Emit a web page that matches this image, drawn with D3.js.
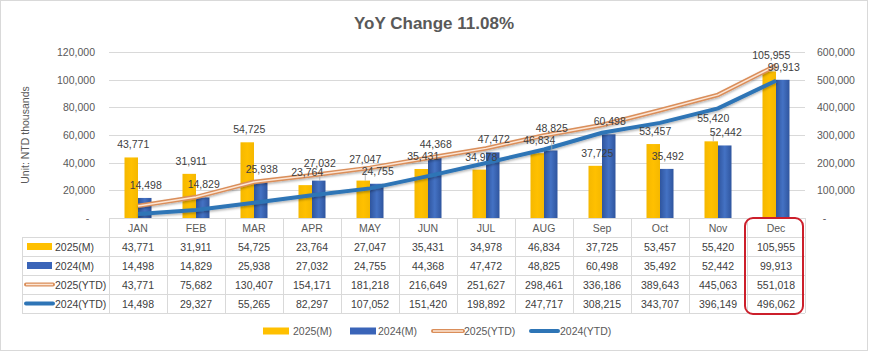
<!DOCTYPE html>
<html><head><meta charset="utf-8">
<script src="https://cdn.jsdelivr.net/npm/d3@7"></script>
<style>
body{margin:0;background:#fff;}
text{font-family:"Liberation Sans",Arial,sans-serif;}
</style>
</head><body>
<svg id="c" width="869" height="352"></svg>
<script>
const title = "YoY Change 11.08%";
const yTitle = "Unit: NTD thousands";
const months = ["JAN","FEB","MAR","APR","MAY","JUN","JUL","AUG","Sep","Oct","Nov","Dec"];
const m2025 = [43771,31911,54725,23764,27047,35431,34978,46834,37725,53457,55420,105955];
const m2024 = [14498,14829,25938,27032,24755,44368,47472,48825,60498,35492,52442,99913];
const ytd2025 = [43771,75682,130407,154171,181218,216649,251627,298461,336186,389643,445063,551018];
const ytd2024 = [14498,29327,55265,82297,107052,151420,198892,247717,308215,343707,396149,496062];
const leftTicks = [0,20000,40000,60000,80000,100000,120000];
const rightTicks = [0,100000,200000,300000,400000,500000,600000];
const seriesNames = ["2025(M)","2024(M)","2025(YTD)","2024(YTD)"];

// layout tweaks: extra lift (px) of a few data labels, as the reference places them
const lift25 = [0,0,0,0,9,0,0,0,0,0,10,3];
const lift24 = [0,0,0,5,0,0,0,9,0,0,0,0];

const C = {y25:"#FFC000", b24:"#3A64B8", o25:"#DA8E5A", o25in:"#FCE6D6", l24:"#2E75B6",
           grid:"#D9D9D9", txt:"#595959", lab:"#404040"};

const svg = d3.select("#c");
const fmt = d3.format(",");

svg.append("rect").attr("x",0.5).attr("y",0.5).attr("width",867).attr("height",350)
  .attr("fill","#fff").attr("stroke","#D9D9D9");

const defs = svg.append("defs");
const gb = defs.append("linearGradient").attr("id","gb").attr("x1","0").attr("x2","1");
gb.append("stop").attr("offset","0").attr("stop-color","#2F559E");
gb.append("stop").attr("offset","0.5").attr("stop-color","#4472C4");
gb.append("stop").attr("offset","1").attr("stop-color","#2F559E");
const gy = defs.append("linearGradient").attr("id","gy").attr("x1","0").attr("x2","1");
gy.append("stop").attr("offset","0").attr("stop-color","#F5B800");
gy.append("stop").attr("offset","0.5").attr("stop-color","#FFC000");
gy.append("stop").attr("offset","1").attr("stop-color","#F5B800");
const sh = defs.append("filter").attr("id","sh").attr("x","-10%").attr("y","-10%").attr("width","120%").attr("height","140%");
sh.append("feDropShadow").attr("dx",0).attr("dy",1.5).attr("stdDeviation",1).attr("flood-color","#000").attr("flood-opacity",0.3);

const X0 = 109, X1 = 805, Y0 = 218, YT = 52;
const x = d3.scaleBand().domain(months).range([X0,X1]).paddingInner(0).paddingOuter(0);
const yL = d3.scaleLinear().domain([0,120000]).range([Y0,YT]);
const yR = d3.scaleLinear().domain([0,600000]).range([Y0,YT]);
const bw = 13.5;
const cx = d=>x(d)+x.bandwidth()/2;

svg.append("text").attr("x",434).attr("y",29).attr("text-anchor","middle")
  .attr("font-size",17).attr("font-weight","bold").attr("fill",C.txt).text(title);

svg.append("text").attr("transform","translate(29,135) rotate(-90)").attr("text-anchor","middle")
  .attr("font-size",10.5).attr("fill",C.txt).text(yTitle);

svg.append("g").selectAll("line").data(leftTicks.filter(d=>d>0)).join("line")
  .attr("x1",X0).attr("x2",X1).attr("y1",d=>Math.round(yL(d))+0.5).attr("y2",d=>Math.round(yL(d))+0.5)
  .attr("stroke",C.grid);

const gl = svg.append("g").attr("transform",`translate(${X0-14},0)`)
  .call(d3.axisLeft(yL).tickValues(leftTicks).tickSize(0).tickPadding(0)
    .tickFormat(d=>d===0?"-  ":fmt(d)));
gl.select(".domain").remove();
gl.selectAll("text").attr("font-size",10.5).attr("fill",C.txt).attr("font-family","Liberation Sans, Arial").attr("xml:space","preserve");

const gr = svg.append("g").attr("transform",`translate(${X1+12},0)`)
  .call(d3.axisRight(yR).tickValues(rightTicks).tickSize(0).tickPadding(0)
    .tickFormat(d=>d===0?"  -":fmt(d)));
gr.select(".domain").remove();
gr.selectAll("text").attr("font-size",10.5).attr("fill",C.txt).attr("font-family","Liberation Sans, Arial").attr("xml:space","preserve");

const gBars = svg.append("g");
gBars.selectAll(".b25").data(months).join("rect")
  .attr("x",d=>cx(d)-bw).attr("width",bw)
  .attr("y",(d,i)=>yL(m2025[i])).attr("height",(d,i)=>Y0-yL(m2025[i]))
  .attr("fill","url(#gy)");
gBars.selectAll(".b24").data(months).join("rect")
  .attr("x",d=>cx(d)).attr("width",bw)
  .attr("y",(d,i)=>yL(m2024[i])).attr("height",(d,i)=>Y0-yL(m2024[i]))
  .attr("fill","url(#gb)");

const l25 = d3.line().x((d,i)=>cx(months[i])).y(d=>yR(d));
svg.append("path").attr("d",l25(ytd2025)).attr("fill","none").attr("stroke",C.o25)
  .attr("stroke-width",4.5).attr("filter","url(#sh)");
svg.append("path").attr("d",l25(ytd2025)).attr("fill","none").attr("stroke",C.o25in)
  .attr("stroke-width",1.5);
svg.append("path").attr("d",l25(ytd2024)).attr("fill","none").attr("stroke",C.l24)
  .attr("stroke-width",4).attr("filter","url(#sh)");

// leader lines for lifted labels
const gLead = svg.append("g").attr("stroke","#A6A6A6").attr("stroke-width",0.8);
months.forEach((m,i)=>{
  if(lift24[i]>4){ gLead.append("line").attr("x1",cx(m)+bw/2+1).attr("x2",cx(m)+bw/2+1)
    .attr("y1",yL(m2024[i])).attr("y2",yL(m2024[i])-lift24[i]+1); }
  if(lift25[i]>4){ gLead.append("line").attr("x1",cx(m)-bw/2+2).attr("x2",cx(m)-bw/2+2)
    .attr("y1",yL(m2025[i])).attr("y2",yL(m2025[i])-lift25[i]+1); }
});

const gLab = svg.append("g").attr("font-size",10.5).attr("fill",C.lab).attr("text-anchor","middle");
gLab.selectAll(".t25").data(months).join("text")
  .attr("x",d=>cx(d)-bw/2+2).attr("y",(d,i)=>yL(m2025[i])-9-lift25[i])
  .text((d,i)=>fmt(m2025[i]));
gLab.selectAll(".t24").data(months).join("text")
  .attr("x",d=>cx(d)+bw/2+1).attr("y",(d,i)=>yL(m2024[i])-9-lift24[i])
  .text((d,i)=>fmt(m2024[i]));

const RH = 19, TY = Y0, LX = 22;
const gt = svg.append("g");
gt.append("line").attr("x1",X0).attr("x2",X1).attr("y1",TY+0.5).attr("y2",TY+0.5).attr("stroke",C.grid);
for(let r=1;r<=5;r++){
  gt.append("line").attr("x1",LX).attr("x2",X1).attr("y1",TY+r*RH+0.5).attr("y2",TY+r*RH+0.5).attr("stroke",C.grid);
}
months.forEach(m=>{
  gt.append("line").attr("x1",Math.round(x(m))+0.5).attr("x2",Math.round(x(m))+0.5)
    .attr("y1",TY).attr("y2",TY+5*RH).attr("stroke",C.grid);
});
gt.append("line").attr("x1",X1+0.5).attr("x2",X1+0.5).attr("y1",TY).attr("y2",TY+5*RH).attr("stroke",C.grid);
gt.append("line").attr("x1",LX+0.5).attr("x2",LX+0.5).attr("y1",TY+RH).attr("y2",TY+5*RH).attr("stroke",C.grid);

gt.selectAll(".h").data(months).join("text").attr("x",d=>cx(d)).attr("y",TY+RH/2+4)
  .attr("text-anchor","middle").attr("font-size",10.5).attr("fill",C.txt).text(d=>d);
const rows = [m2025,m2024,ytd2025,ytd2024];
rows.forEach((row,r)=>{
  const yy = TY+(r+1)*RH+RH/2+4;
  gt.selectAll(".r"+r).data(row).join("text").attr("x",(d,i)=>cx(months[i])).attr("y",yy)
    .attr("text-anchor","middle").attr("font-size",10.5).attr("fill",C.lab).text(d=>fmt(d));
  gt.append("text").attr("x",55).attr("y",yy).attr("font-size",10.5).attr("fill",C.lab).text(seriesNames[r]);
});

function key(g, kind, x0, x1, yc){
  if(kind===0 || kind===1){
    g.append("rect").attr("x",x0).attr("y",yc-3.5).attr("width",x1-x0).attr("height",7)
      .attr("fill",kind===0?C.y25:C.b24);
  } else if(kind===2){
    g.append("line").attr("x1",x0).attr("x2",x1).attr("y1",yc).attr("y2",yc)
      .attr("stroke",C.o25).attr("stroke-width",4).attr("stroke-linecap","round");
    g.append("line").attr("x1",x0).attr("x2",x1).attr("y1",yc).attr("y2",yc)
      .attr("stroke",C.o25in).attr("stroke-width",1.5);
  } else {
    g.append("line").attr("x1",x0).attr("x2",x1).attr("y1",yc).attr("y2",yc)
      .attr("stroke",C.l24).attr("stroke-width",4).attr("stroke-linecap","round");
  }
}
rows.forEach((row,r)=>{
  const yc = TY+(r+1)*RH+RH/2;
  if(r<2) key(gt,r,27,52,yc); else key(gt,r,26,53,yc);
});

svg.append("rect").attr("x",x("Dec")-2).attr("y",TY).attr("width",x.bandwidth()).attr("height",5*RH+1)
  .attr("rx",8).attr("fill","none").attr("stroke","#CC1F2B").attr("stroke-width",2);

const lg = svg.append("g");
const legendItems = [
  {k:0,x0:263,x1:289,tx:293},
  {k:1,x0:350,x1:376,tx:378},
  {k:2,x0:433,x1:463,tx:464},
  {k:3,x0:531,x1:558,tx:560}
];
legendItems.forEach((it,i)=>{
  key(lg,it.k,it.x0,it.x1,331);
  lg.append("text").attr("x",it.tx).attr("y",335).attr("font-size",10.5).attr("fill",C.txt).text(seriesNames[i]);
});
</script>
</body></html>
